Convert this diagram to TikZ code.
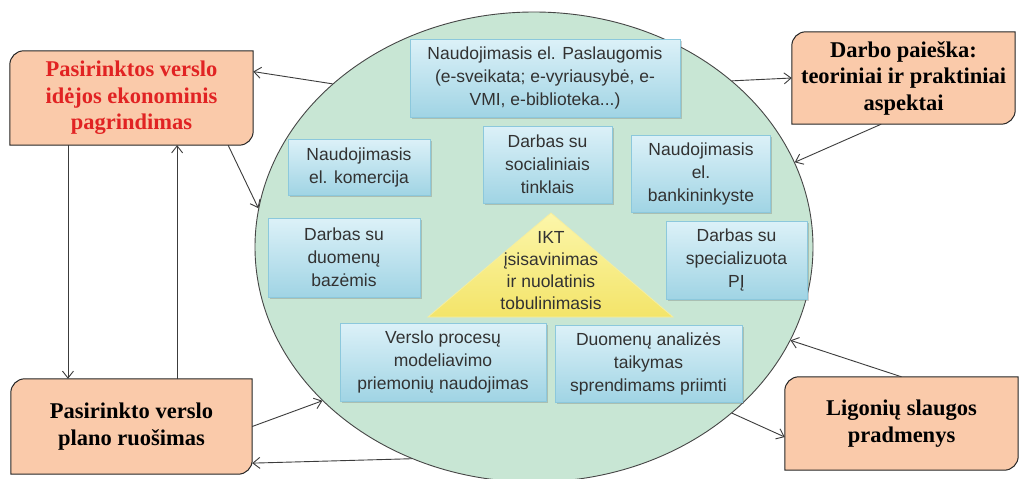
\documentclass[tikz,border=0pt]{standalone}
\usepackage{fontspec}
\setmainfont{Liberation Serif}
\setsansfont{Liberation Sans}
\usetikzlibrary{arrows.meta,calc,shapes.geometric,shadows,backgrounds}
\definecolor{orangefill}{RGB}{250,202,170}
\definecolor{ellfill}{RGB}{200,230,212}
\definecolor{ellline}{RGB}{70,70,70}
\definecolor{bluetop}{RGB}{220,241,248}
\definecolor{bluebot}{RGB}{160,212,228}
\definecolor{blueline}{RGB}{140,200,220}
\definecolor{bluetext}{RGB}{50,50,50}
\definecolor{arrowc}{RGB}{60,60,60}
\definecolor{redtext}{RGB}{225,35,35}
\definecolor{yeltop}{RGB}{252,246,170}
\definecolor{yelbot}{RGB}{243,228,105}
\definecolor{yelline}{RGB}{245,238,160}
\tikzset{
  bluebox/.style={rectangle, draw=blueline, line width=0.8pt, top color=bluetop,
    bottom color=bluebot, align=center, inner sep=0pt, text=bluetext,
    font=\sffamily\fontsize{17.5}{23}\selectfont,
    drop shadow={shadow xshift=1.5pt, shadow yshift=-2pt, opacity=0.3, fill=black!60}},
  orangetext/.style={rectangle, inner sep=0pt, align=center,
    font=\bfseries\fontsize{22.5}{26.5}\selectfont},
  oshape/.style={fill=orangefill, draw=black!85, line width=1pt},
  conn/.style={draw=arrowc, line width=0.9pt, -{Straight Barb[length=7pt,width=11pt]}},
}
\newcommand\orangeshape[1]{%
  \path[oshape] (#1.south west) -- ([yshift=-14pt]#1.north west)
    arc[start angle=180,end angle=90,radius=14pt] -- (#1.north east)
    -- ([yshift=14pt]#1.south east)
    arc[start angle=0,end angle=-90,radius=14pt] -- cycle;}
\begin{document}
\begin{tikzpicture}[x=1pt,y=-1pt]
\useasboundingbox (0,0) rectangle (1021,479);
% ellipse
\node[ellipse, draw=ellline, fill=ellfill, line width=0.9pt, minimum width=558pt,
  minimum height=470pt, inner sep=0pt] (ell) at (534,247) {};
% blue boxes
\node[bluebox, minimum width=270pt, minimum height=78pt] (nA) at (545,78)
  {Naudojimasis el. Paslaugomis\\(e-sveikata; e-vyriausybė, e-\\VMI, e-biblioteka...)};
\node[bluebox, minimum width=129pt, minimum height=77pt] (nB) at (547.5,164.5)
  {Darbas su\\socialiniais\\tinklais};
\node[bluebox, minimum width=139pt, minimum height=77pt] (nC) at (701,173.5)
  {Naudojimasis\\el.\\bankininkyste};
\node[bluebox, minimum width=142pt, minimum height=56pt] (nD) at (359,167)
  {Naudojimasis\\el. komercija};
\node[bluebox, minimum width=152pt, minimum height=79pt] (nE) at (344,257.5)
  {Darbas su\\duomenų\\bazėmis};
\node[bluebox, minimum width=141pt, minimum height=78pt] (nF) at (736.5,260)
  {Darbas su\\specializuota\\PĮ};
\node[bluebox, minimum width=206pt, minimum height=78pt] (nG) at (443,362)
  {Verslo procesų\\modeliavimo\\priemonių naudojimas};
\node[bluebox, minimum width=187pt, minimum height=77pt] (nH) at (648.5,363.5)
  {Duomenų analizės\\taikymas\\sprendimams priimti};
% triangle
\path[draw=yelline, line width=0.8pt, top color=yeltop, bottom color=yelbot]
  (551,213) -- (428,317) -- (673,317) -- cycle;
\node[align=center, inner sep=0pt, text=bluetext, font=\sffamily\fontsize{17.5}{22}\selectfont]
  (ikt) at (551,271) {IKT\\įsisavinimas\\ir nuolatinis\\tobulinimasis};
% orange boxes
\node[orangetext, minimum width=243pt, minimum height=94pt, text=redtext] (b1) at (131.5,98)
  {Pasirinktos verslo\\idėjos ekonominis\\pagrindimas};
\node[orangetext, minimum width=241pt, minimum height=95pt] (b2) at (131.5,426.5)
  {Pasirinkto verslo\\plano ruošimas};
\node[orangetext, minimum width=223pt, minimum height=92pt] (b3) at (903.5,78)
  {Darbo paieška:\\teoriniai ir praktiniai\\aspektai};
\node[orangetext, minimum width=233pt, minimum height=93pt] (b4) at (901.5,423.5)
  {Ligonių slaugos\\pradmenys};
\begin{pgfonlayer}{background}
  \fill[white] (0,0) rectangle (1021,479);
  \orangeshape{b1}
  \orangeshape{b2}
  \orangeshape{b3}
  \orangeshape{b4}
\end{pgfonlayer}
% connectors
\draw[conn] (ell.141) -- ($(b1.north east)!0.22!(b1.south east)$);
\draw[conn] ($(b1.south west)!0.897!(b1.south east)$) -- (ell.172);
\draw[conn] ($(b1.south west)!0.239!(b1.south east)$) coordinate (v1) -- (v1 |- b2.north);
\draw[conn] ($(b2.north west)!0.689!(b2.north east)$) coordinate (v2) -- (v2 |- b1.south);
\draw[conn] (b2.east) -- (ell.216);
\draw[conn] (ell.240) -- ($(b2.north east)!0.884!(b2.south east)$);
\draw[conn] (ell.40) -- (b3.west);
\draw[conn] ($(b3.south west)!0.40!(b3.south east)$) -- (ell.18);
\draw[conn] (b4.north) -- (ell.-20);
\draw[conn] (ell.-40) -- ($(b4.north west)!0.645!(b4.south west)$);
\end{tikzpicture}
\end{document}
